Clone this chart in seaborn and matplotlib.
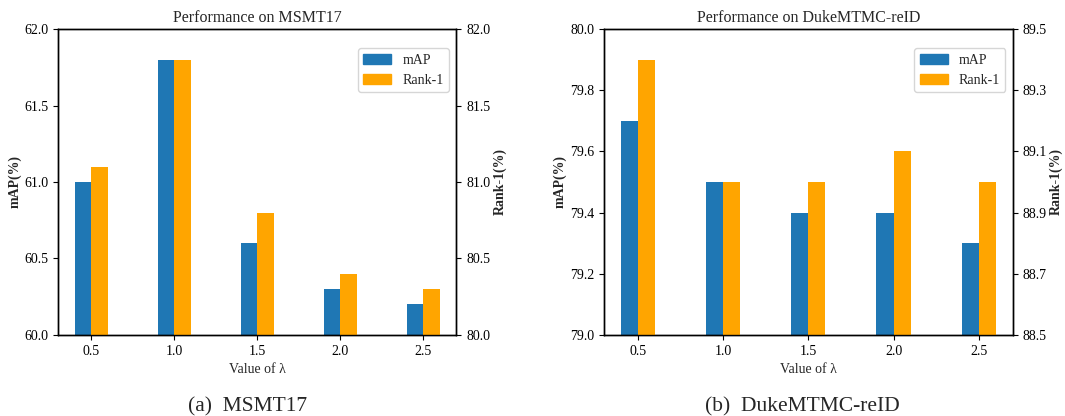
import numpy as np
import pandas as pd
import matplotlib
matplotlib.use("Agg")
import matplotlib.pyplot as plt
import seaborn as sns
from matplotlib.patches import Patch

sns.set_theme(style="ticks")
plt.rcParams['font.family'] = ['Liberation Serif', 'DejaVu Serif']

# data
lambdas = [0.5, 1.0, 1.5, 2.0, 2.5]
msmt_map = [61.0, 61.8, 60.6, 60.3, 60.2]
msmt_rank1 = [81.1, 81.8, 80.8, 80.4, 80.3]
duke_map = [79.7, 79.5, 79.4, 79.4, 79.3]
duke_rank1 = [89.4, 89.0, 89.0, 89.1, 89.0]

blue = '#1f77b4'
orange = '#ffa500'

panels = [
    ("Performance on MSMT17", msmt_map, msmt_rank1, (60.0, 62.0), (80.0, 82.0),
     [60.0, 60.5, 61.0, 61.5, 62.0], [80.0, 80.5, 81.0, 81.5, 82.0], "(a)  MSMT17"),
    ("Performance on DukeMTMC-reID", duke_map, duke_rank1, (79.0, 80.0), (88.5, 89.5),
     [79.0, 79.2, 79.4, 79.6, 79.8, 80.0], [88.5, 88.7, 88.9, 89.1, 89.3, 89.5], "(b)  DukeMTMC-reID"),
]

fig = plt.figure(figsize=(10.65, 4.16), dpi=100)
boxes = [[0.0545, 0.195, 0.374, 0.735], [0.567, 0.195, 0.384, 0.735]]
caption_x = [0.232, 0.753]

for i, (title, m, r, ylim1, ylim2, t1, t2, cap) in enumerate(panels):
    ax = fig.add_axes(boxes[i])
    ax2 = ax.twinx()
    x = np.array(lambdas)
    df_m = pd.DataFrame({'x': x - 0.05, 'v': m})
    df_r = pd.DataFrame({'x': x + 0.05, 'v': r})
    ax.bar(df_m['x'], df_m['v'], width=0.1, color=blue, linewidth=0)
    ax2.bar(df_r['x'], df_r['v'], width=0.1, color=orange, linewidth=0)
    ax.set_ylim(*ylim1)
    ax2.set_ylim(*ylim2)
    ax.set_xlim(0.3, 2.7)
    ax.set_yticks(t1)
    ax.set_yticklabels([f"{v:.1f}" for v in t1])
    ax2.set_yticks(t2)
    ax2.set_yticklabels([f"{v:.1f}" for v in t2])
    ax.set_xticks(lambdas)
    ax.set_xticklabels([f"{v:.1f}" for v in lambdas])
    ax.set_title(title, fontsize=11.5, pad=5)
    ax.set_xlabel("Value of λ", fontsize=10)
    ax.set_ylabel("mAP(%)", fontsize=10, fontweight='bold', labelpad=2)
    ax2.set_ylabel("Rank-1(%)", fontsize=10, fontweight='bold', labelpad=2)
    for a in (ax, ax2):
        a.tick_params(labelsize=10, length=3.5, width=0.8, colors='black')
        for s in a.spines.values():
            s.set_linewidth(1.0)
            s.set_color('black')
    handles = [Patch(color=blue, label='mAP'), Patch(color=orange, label='Rank-1')]
    ax2.legend(handles=handles, loc='upper right', bbox_to_anchor=(0.982, 0.938),
               borderaxespad=0, fontsize=10, frameon=True, fancybox=True,
               handlelength=2.0, borderpad=0.4, labelspacing=0.5)
    fig.text(caption_x[i], 0.012, cap, ha='center', fontsize=15.5,
             family=['Liberation Serif'])

fig.savefig('out.png', dpi=100)
